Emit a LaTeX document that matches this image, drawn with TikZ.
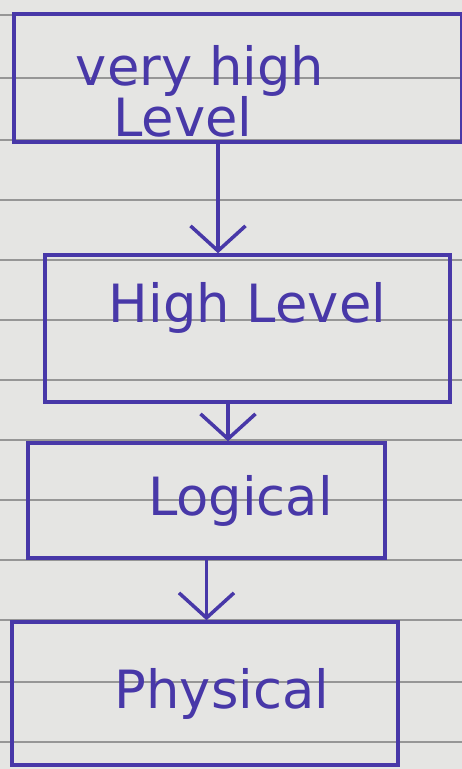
\documentclass[tikz,border=0pt]{standalone}
\usepackage{fontspec}
\usepackage{tikz}
\usetikzlibrary{arrows.meta}
\setmainfont{DejaVu Sans}
\definecolor{ink}{RGB}{72,56,168}
\definecolor{paper}{RGB}{229,229,227}
\definecolor{rule}{RGB}{150,150,150}

\begin{document}
\begin{tikzpicture}[x=0.02cm,y=-0.02cm,
	box/.style={draw=ink,line width=2pt,rectangle,inner sep=0pt,text=ink,
		font=\fontsize{30}{29.5}\selectfont,align=center},
	flow/.style={draw=ink,line width=2pt,-{Straight Barb[length=5mm,width=11mm,line width=2pt]}}]
				\useasboundingbox (0,0) rectangle (462,769);
				\fill[paper] (0,0) rectangle (462,769);
				\foreach \y in {15,78,140,200,260,320,380,440,500,560,620,682,742}
					\draw[rule,line width=0.6pt] (0,\y) -- (462,\y);
				\node[box,minimum width=8.96cm,minimum height=2.56cm,text height=2.36cm,text depth=0cm] (vhl) at (238,78)
					{very high\hspace*{1.52cm}\\Level\hspace*{2.2cm}};
				\node[box,minimum width=8.1cm,minimum height=2.94cm,text depth=1.04cm] (hl) at (247.5,328.5) {High Level};
				\node[box,minimum width=7.14cm,minimum height=2.3cm] (lg) at (206.5,500.5) {\hspace*{1.36cm}Logical};
				\node[box,minimum width=7.72cm,minimum height=2.86cm] (ph) at (205,693.5) {\hspace*{0.68cm}Physical};
				\coordinate (a1) at ([xshift=-0.4cm]vhl.south);
				\coordinate (a2) at ([xshift=-0.39cm]hl.south);
				\coordinate (a3) at (lg.south);
				\draw[flow] (a1) -- (a1 |- hl.north);
				\draw[flow] (a2) -- (a2 |- lg.north);
				\draw[flow] (a3) -- (a3 |- ph.north);
				\end{tikzpicture}
\end{document}
